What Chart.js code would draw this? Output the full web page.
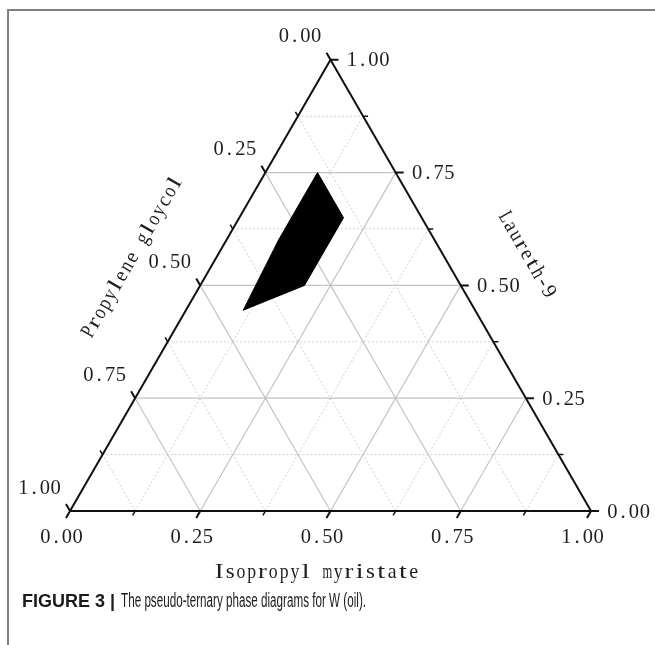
<!DOCTYPE html>
<html>
<head>
<meta charset="utf-8">
<script src="https://cdn.jsdelivr.net/npm/chart.js@4"></script>
<style>
  html, body { margin: 0; padding: 0; background: #fff; }
  #wrap { width: 655px; height: 645px; }
</style>
</head>
<body>
<div id="wrap"><canvas id="c" width="655" height="645"></canvas></div>
<script>
// Ternary axes: bottom = oil, right = surfactant, left = co-surfactant
const axisTitles = ['Isopropyl myristate', 'Laureth-9', 'Propylene gloycol'];
const majorTicks = [0, 0.25, 0.5, 0.75, 1];
const tickLabels = ['0.00', '0.25', '0.50', '0.75', '1.00'];
const minorTicks = [0.125, 0.375, 0.625, 0.875];

// Microemulsion region boundary (mass fractions); propylene glycol = 1 - oil - surfactant
const regionOil        = [0.10, 0.20, 0.20, 0.11, 0.10];
const regionSurfactant = [0.75, 0.65, 0.50, 0.445, 0.60];

const SQ3 = Math.sqrt(3) / 2;
// oil fraction a, surfactant fraction b -> plane coordinates
const toXY = (a, b) => ({ x: a + b / 2, y: b * SQ3 });

// canvas geometry: triangle base spans 521 px, bottom-left corner at (70, 511)
const UNIT = 521, OX = 70, OY = 511, W = 655, H = 645;

function segments(list) {
  const out = [];
  list.forEach(([p, q]) => { out.push(p, q, { x: p.x, y: null }); });
  return out;
}

function gridLines(values) {
  const segs = [];
  values.forEach(t => {
    segs.push([toXY(0, t), toXY(1 - t, t)]);        // constant surfactant
    segs.push([toXY(t, 0), toXY(t, 1 - t)]);        // constant oil
    segs.push([toXY(1 - t, 0), toXY(0, 1 - t)]);    // constant propylene glycol
  });
  return segments(segs);
}

function tickMarks(values, len) {
  const segs = [];
  const l = len / UNIT;
  values.forEach(v => {
    const pb = toXY(v, 0);           // bottom axis, tick points down-left
    segs.push([pb, { x: pb.x - 0.5 * l, y: pb.y - SQ3 * l }]);
    const pr = toXY(1 - v, v);       // right axis, tick points right
    segs.push([pr, { x: pr.x + l, y: pr.y }]);
    const pl = toXY(0, 1 - v);       // left axis, tick points up-left
    segs.push([pl, { x: pl.x - 0.5 * l, y: pl.y + SQ3 * l }]);
  });
  return segments(segs);
}

const outline = [toXY(0, 0), toXY(1, 0), toXY(0, 1), toXY(0, 0)];
const region = regionOil.map((a, i) => toXY(a, regionSurfactant[i]));
region.push(region[0]);

// fixed-pitch serif lettering: every glyph gets the same cell width
const TEXT_FONT = '21px "Liberation Serif", "DejaVu Serif", serif';
const TEXT_COLOR = '#1e1e1e';
const CELL = 10.8;

function pitchText(ctx, text, x, y, angle, align) {
  ctx.save();
  ctx.translate(x, y);
  ctx.rotate(angle);
  ctx.font = TEXT_FONT;
  ctx.fillStyle = TEXT_COLOR;
  ctx.textAlign = 'center';
  ctx.textBaseline = 'middle';
  const total = text.length * CELL;
  const start = align === 'left' ? 0 : -total / 2;
  for (let i = 0; i < text.length; i++) {
    const ch = text[i];
    const w = ctx.measureText(ch).width;
    let sx = 1;
    if (/[a-zA-Z]/.test(ch) && w > 0) {
      sx = Math.max(0.6, Math.min(1.35, (0.82 * CELL) / w));
    } else if (w > 0.95 * CELL) {
      sx = (0.95 * CELL) / w;
    }
    ctx.save();
    ctx.translate(start + (i + 0.5) * CELL, 0);
    ctx.scale(sx, 1);
    ctx.fillText(ch, 0, 0);
    ctx.restore();
  }
  ctx.restore();
}

const ternaryLabels = {
  id: 'ternaryLabels',
  afterDatasetsDraw(chart) {
    const { ctx, scales } = chart;
    const px = p => ({ x: scales.x.getPixelForValue(p.x), y: scales.y.getPixelForValue(p.y) });

    majorTicks.forEach((v, i) => {
      const b = px(toXY(v, 0));
      pitchText(ctx, tickLabels[i], b.x - 8.5, b.y + 26, 0, 'center');
      const r = px(toXY(1 - v, v));
      pitchText(ctx, tickLabels[i], r.x + 16, r.y + 1, 0, 'left');
      const l = px(toXY(0, 1 - v));
      pitchText(ctx, tickLabels[i], l.x - 30.5, l.y - 23, 0, 'center');
    });

    const mb = px(toXY(0.5, 0));
    pitchText(ctx, axisTitles[0], mb.x - 14, mb.y + 61, 0, 'center');
    const mr = px(toXY(0.5, 0.5));
    pitchText(ctx, axisTitles[1], mr.x + 66, mr.y - 31, Math.PI / 3, 'center');
    const ml = px(toXY(0, 0.5));
    pitchText(ctx, axisTitles[2], ml.x - 68, ml.y - 28, -Math.PI / 3, 'center');
  }
};

const pageFrame = {
  id: 'pageFrame',
  afterDraw(chart) {
    const ctx = chart.ctx;
    ctx.save();
    ctx.strokeStyle = '#808080';
    ctx.lineWidth = 2;
    ctx.beginPath();
    ctx.moveTo(W, 10);
    ctx.lineTo(8, 10);
    ctx.lineTo(8, H);
    ctx.stroke();

    // caption: bold figure number, condensed description
    const boldPart = 'FIGURE 3 |';
    const restPart = 'The pseudo-ternary phase diagrams for W (oil).';
    ctx.textBaseline = 'alphabetic';
    ctx.textAlign = 'left';
    ctx.fillStyle = '#1a1a1a';
    ctx.font = 'bold 18px "Liberation Sans", Arial, sans-serif';
    ctx.fillText(boldPart, 22, 607);
    const wb = ctx.measureText(boldPart).width;
    ctx.font = '20px "Liberation Sans", Arial, sans-serif';
    const wr = ctx.measureText(restPart).width;
    const x0 = 22 + wb + 6;
    const sx = (366 - x0) / wr;
    ctx.translate(x0, 607);
    ctx.scale(sx, 1);
    ctx.fillText(restPart, 0, 0);
    ctx.restore();
  }
};

new Chart(document.getElementById('c'), {
  type: 'scatter',
  data: {
    datasets: [
      {
        label: 'minor grid',
        data: gridLines(minorTicks),
        showLine: true, spanGaps: false,
        borderColor: '#cfcfcf', borderWidth: 1, borderDash: [2, 2],
        pointRadius: 0,
        order: 6
      },
      {
        label: 'major grid',
        data: gridLines([0.25, 0.5, 0.75]),
        showLine: true, spanGaps: false,
        borderColor: '#c4c4c4', borderWidth: 1.2,
        pointRadius: 0,
        order: 5
      },
      {
        label: 'region',
        data: region,
        showLine: true,
        fill: 'shape',
        backgroundColor: '#000',
        borderColor: '#000', borderWidth: 1,
        pointRadius: 0,
        order: 4
      },
      {
        label: 'outline',
        data: outline,
        showLine: true,
        borderColor: '#111', borderWidth: 2,
        pointRadius: 0,
        order: 3
      },
      {
        label: 'major ticks',
        data: tickMarks(majorTicks, 8),
        showLine: true, spanGaps: false,
        borderColor: '#111', borderWidth: 2,
        pointRadius: 0,
        order: 2
      },
      {
        label: 'minor ticks',
        data: tickMarks(minorTicks, 5),
        showLine: true, spanGaps: false,
        borderColor: '#111', borderWidth: 1.5,
        pointRadius: 0,
        order: 1
      }
    ]
  },
  options: {
    responsive: false,
    animation: false,
    layout: { padding: 0 },
    scales: {
      x: { type: 'linear', display: false, min: -OX / UNIT, max: (W - OX) / UNIT },
      y: { type: 'linear', display: false, min: (OY - H) / UNIT, max: OY / UNIT }
    },
    plugins: { legend: { display: false }, tooltip: { enabled: false } },
    elements: { line: { tension: 0 } }
  },
  plugins: [ternaryLabels, pageFrame]
});
</script>
</body>
</html>
